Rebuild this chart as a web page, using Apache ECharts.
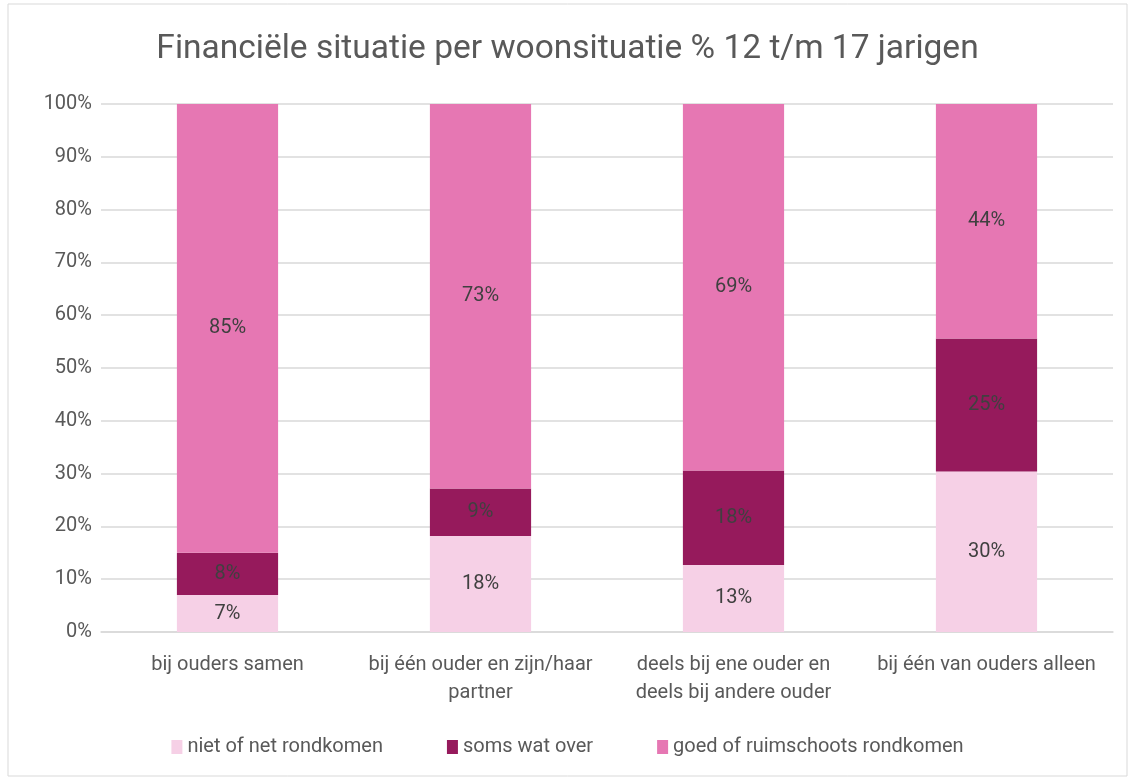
<!DOCTYPE html>
<html>
<head>
<meta charset="utf-8">
<script src="https://cdn.jsdelivr.net/npm/echarts@6/dist/echarts.min.js"></script>
<style>
  html, body { margin: 0; padding: 0; background: #fff; }
  #main { width: 1135px; height: 778px; }
</style>
</head>
<body>
<div id="main"></div>
<script>
var myChart = echarts.init(document.getElementById("main"));

var categories = [
  "bij ouders samen",
  "bij één ouder en zijn/haar\npartner",
  "deels bij ene ouder en\ndeels bij andere ouder",
  "bij één van ouders alleen"
];
var nietOfNet = [7.0, 18.2, 12.7, 30.4];
var somsWatOver = [8.0, 9.0, 17.9, 25.2];
var goedOfRuim = [85.0, 72.8, 69.4, 44.4];
var yTicks = [0, 10, 20, 30, 40, 50, 60, 70, 80, 90, 100];

var fontFam = "Roboto, 'Liberation Sans', sans-serif";
var textGrey = "#595959";

function mkSeries(name, data, color) {
  return {
    name: name,
    type: "bar",
    stack: "totaal",
    data: data,
    barWidth: "40%",
    itemStyle: { color: color },
    label: {
      show: true,
      position: "inside",
      color: "#404040",
      fontSize: 20,
      fontFamily: fontFam,
      formatter: function (p) { return Math.round(p.value) + "%"; }
    }
  };
}

var option = {
  backgroundColor: "#fff",
  animation: false,
  title: {
    text: "Financiële situatie per woonsituatie % 12 t/m 17 jarigen",
    left: "center",
    top: 28,
    textStyle: { fontSize: 33.5, fontWeight: "normal", color: textGrey, fontFamily: fontFam }
  },
  graphic: [{
    type: "rect",
    shape: { x: 8, y: 4, width: 1119, height: 772 },
    style: { fill: "none", stroke: "#d9d9d9", lineWidth: 1 },
    silent: true
  }],
  legend: {
    bottom: 16,
    left: "center",
    itemWidth: 11,
    itemHeight: 14,
    itemGap: 64,
    icon: "rect",
    textStyle: { fontSize: 20, color: textGrey, fontFamily: fontFam }
  },
  grid: { left: 101, right: 22, top: 104, bottom: 146, containLabel: false },
  xAxis: {
    type: "category",
    data: categories,
    axisTick: { show: false },
    axisLine: { lineStyle: { color: "#d9d9d9", width: 1.5 } },
    axisLabel: { fontSize: 20, color: textGrey, fontFamily: fontFam, margin: 19, lineHeight: 28, interval: 0 }
  },
  yAxis: {
    type: "value",
    min: yTicks[0],
    max: yTicks[yTicks.length - 1],
    interval: 10,
    axisLine: { show: false },
    axisTick: { show: false },
    splitLine: { lineStyle: { color: "#d9d9d9", width: 1.5 } },
    axisLabel: {
      fontSize: 20, color: textGrey, fontFamily: fontFam, margin: 9,
      formatter: function (v) { return v + "%"; }
    }
  },
  series: [
    mkSeries("niet of net rondkomen", nietOfNet, "#f6d0e6"),
    mkSeries("soms wat over", somsWatOver, "#961a5c"),
    mkSeries("goed of ruimschoots rondkomen", goedOfRuim, "#e677b3")
  ]
};

myChart.setOption(option);
</script>
</body>
</html>
